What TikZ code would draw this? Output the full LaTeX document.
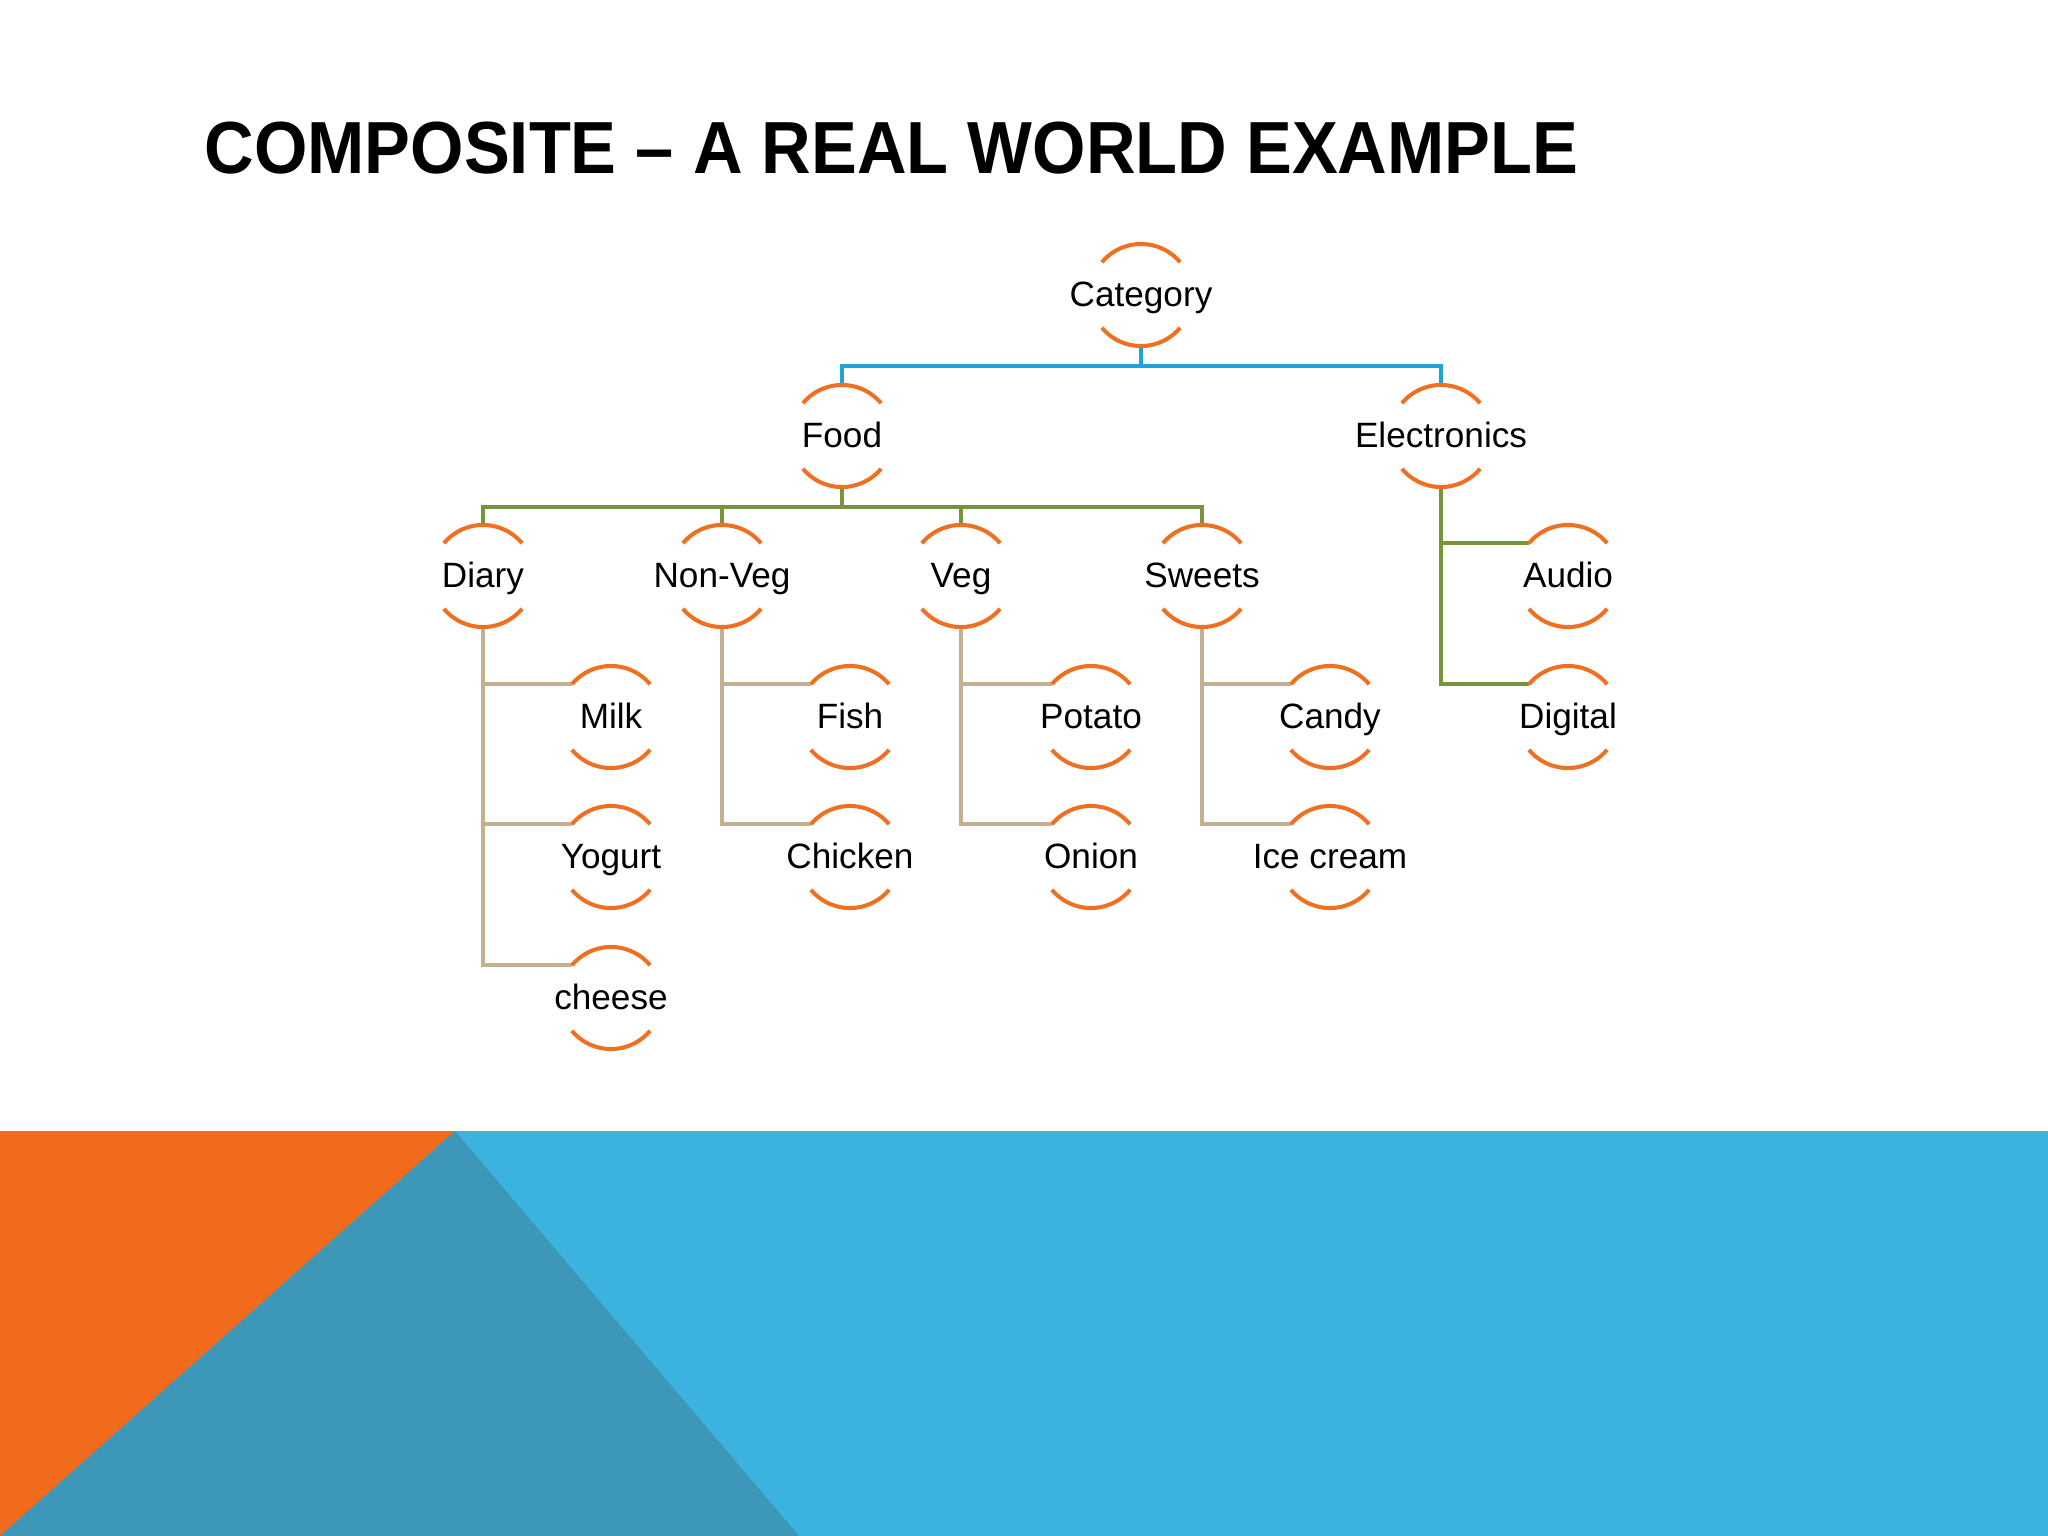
\documentclass[tikz,border=0pt]{standalone}
\usepackage{fontspec}
\setmainfont{Liberation Sans}
\definecolor{org}{HTML}{F26B1D}
\definecolor{arcc}{HTML}{F07022}
\definecolor{blu}{HTML}{3BB3DE}
\definecolor{teal}{HTML}{3D97B8}
\definecolor{bl}{HTML}{1FA3D9}
\definecolor{gr}{HTML}{77933C}
\definecolor{tn}{HTML}{C4B08E}
\begin{document}
\begin{tikzpicture}[x=0.01cm,y=0.01cm,
 cn/.style={circle,inner sep=0,outer sep=0,minimum size=1.02cm,
   label={[font=\fontsize{10}{12}\selectfont,text height=1.6ex,text depth=0.4ex,inner sep=0]center:#1}},
 arcst/.style={draw=arcc,line width=1.15pt},
 bls/.style={draw=bl,line width=1.15pt},
 grs/.style={draw=gr,line width=1.15pt},
 tns/.style={draw=tn,line width=1.15pt}]
\useasboundingbox (0,0) rectangle (2048,-1536);
\fill[blu] (0,-1131) rectangle (2048,-1536);
\fill[org] (0,-1131) -- (455,-1131) -- (0,-1536) -- cycle;
\fill[teal] (455,-1131) -- (799,-1536) -- (0,-1536) -- cycle;
\node[anchor=west,inner sep=0,font=\bfseries\fontsize{21}{24}\selectfont,xscale=0.93] (title) at (204,-148) {COMPOSITE – A REAL WORLD EXAMPLE};
\node[cn=Category] (cat) at (1141,-295) {};
\node[cn=Food] (food) at (842,-436) {};
\node[cn=Electronics] (elec) at (1441,-436) {};
\node[cn=Diary] (diary) at (483,-576) {};
\node[cn=Non-Veg] (nonveg) at (722,-576) {};
\node[cn=Veg] (veg) at (961,-576) {};
\node[cn=Sweets] (sweets) at (1202,-576) {};
\node[cn=Audio] (audio) at (1568,-576) {};
\node[cn=Milk] (milk) at (611,-717) {};
\node[cn=Fish] (fish) at (850,-717) {};
\node[cn=Potato] (potato) at (1091,-717) {};
\node[cn=Candy] (candy) at (1330,-717) {};
\node[cn=Digital] (digital) at (1568,-717) {};
\node[cn=Yogurt] (yogurt) at (611,-857) {};
\node[cn=Chicken] (chicken) at (850,-857) {};
\node[cn=Onion] (onion) at (1091,-857) {};
\node[cn=Ice cream] (icecream) at (1330,-857) {};
\node[cn=cheese] (cheese) at (611,-998) {};
% connectors
\draw[bls] (food.north) |- (cat.south |- 0,-366) -| (elec.north);
\draw[bls] (cat.south) -- (cat.south |- 0,-366);
\draw[grs] (diary.north) -- (diary.north |- 0,-507) -- (sweets.north |- 0,-507) -- (sweets.north);
\draw[grs] (food.south) -- (food.south |- 0,-507);
\draw[grs] (nonveg.north) -- (nonveg.north |- 0,-507);
\draw[grs] (veg.north) -- (veg.north |- 0,-507);
\draw[grs] (elec.south) |- (audio.140);
\draw[grs] (elec.south) |- (digital.140);
\draw[tns] (diary.south) |- (milk.140);
\draw[tns] (diary.south) |- (yogurt.140);
\draw[tns] (diary.south) |- (cheese.140);
\draw[tns] (nonveg.south) |- (fish.140);
\draw[tns] (nonveg.south) |- (chicken.140);
\draw[tns] (veg.south) |- (potato.140);
\draw[tns] (veg.south) |- (onion.140);
\draw[tns] (sweets.south) |- (candy.140);
\draw[tns] (sweets.south) |- (icecream.140);
\foreach \n in {cat,food,elec,diary,nonveg,veg,sweets,audio,milk,fish,potato,candy,digital,yogurt,chicken,onion,icecream,cheese}{
 \draw[arcst] (\n.40) arc(40:140:0.51cm);
 \draw[arcst] (\n.220) arc(220:320:0.51cm);
}
\end{tikzpicture}
\end{document}
